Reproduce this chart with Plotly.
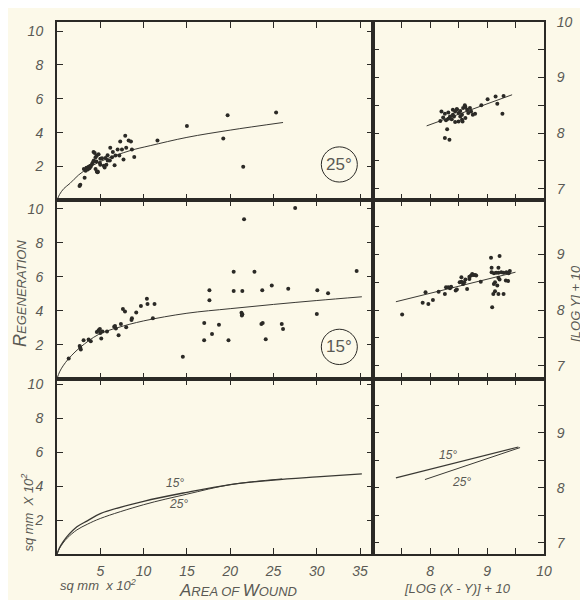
import plotly.graph_objects as go
from plotly.subplots import make_subplots

# ---------------- DATA ----------------
# Top-left (25 deg): area of wound vs regeneration
top_x = [2.69, 2.6, 3.19, 4.6, 4.7, 4.22, 6.15, 5.84, 5.5, 6.65, 7.3, 7.88, 8.27, 8.54, 7.99, 8.65,
         8.92, 7.68, 11.6, 15.0, 19.2, 19.7, 21.5, 25.3,
         3.1, 3.4, 3.65, 3.85, 4.05, 4.25, 4.45, 4.6, 4.35, 4.8, 5.0, 4.55, 4.15, 3.75, 5.2, 5.6,
         5.85, 6.35, 6.75, 7.0, 7.5, 7.2, 6.45, 6.1, 5.4, 5.7, 5.0, 4.45, 4.7, 3.3, 3.55, 3.9, 4.95]
top_y = [0.92, 0.85, 1.34, 1.69, 1.66, 2.85, 3.1, 2.66, 1.94, 2.08, 3.47, 3.82, 3.53, 3.47, 3.1, 3.0,
         2.56, 2.42, 3.53, 4.40, 3.66, 5.03, 1.98, 5.19,
         1.85, 1.93, 1.98, 2.05, 2.15, 2.35, 2.55, 2.65, 2.8, 2.72, 2.45, 2.3, 2.25, 1.9, 2.48, 2.5,
         2.35, 2.55, 2.65, 3.0, 3.0, 2.65, 2.85, 2.35, 2.05, 2.1, 2.1, 1.85, 1.7, 1.75, 1.82, 2.0, 2.2]
top_curve_x = [0, 0.3, 0.8, 1.5, 2.5, 3.85, 5.5, 8.45, 10.76, 15.0, 20.0, 26.1]
top_curve_y = [0, 0.35, 0.7, 1.0, 1.5, 1.98, 2.4, 2.94, 3.23, 3.72, 4.15, 4.6]

# Top-right (25 deg): log-log
topr_x = [8.18, 8.30, 8.26, 8.34, 8.90, 9.01, 9.15, 9.29, 9.18, 9.27,
          8.20, 8.26, 8.32, 8.35, 8.40, 8.44, 8.47, 8.50, 8.53, 8.56, 8.58, 8.61, 8.62,
          8.65, 8.67, 8.70, 8.72, 8.75, 8.79, 8.50, 8.44, 8.38, 8.32, 8.28, 8.23, 8.42, 8.56,
          8.62, 8.57, 8.47, 8.53, 8.40]
topr_y = [8.22, 8.07, 7.91, 7.88, 8.50, 8.61, 8.66, 8.67, 8.53, 8.35,
          8.39, 8.35, 8.37, 8.30, 8.33, 8.39, 8.43, 8.36, 8.30, 8.24, 8.45, 8.50, 8.47,
          8.42, 8.36, 8.45, 8.39, 8.33, 8.35, 8.21, 8.20, 8.25, 8.26, 8.23, 8.28, 8.30, 8.33,
          8.27, 8.21, 8.43, 8.40, 8.42]
topr_line_x = [7.94, 9.44]
topr_line_y = [8.13, 8.69]

# Middle-left (15 deg)
mid_x = [1.35, 2.69, 2.75, 2.62, 3.07, 3.65, 3.9, 4.6, 4.8, 5.0, 5.25, 4.95, 5.11, 5.77, 6.6, 6.8,
         6.7, 7.11, 7.38, 7.99, 7.61, 7.85, 8.65, 8.6, 9.15, 9.69, 10.38, 10.45, 11.26, 11.07,
         14.53, 17.0, 16.99, 17.6, 17.6, 17.9, 18.7, 19.8, 20.4, 20.4, 21.6, 21.4, 21.3, 21.4,
         21.35, 22.8, 23.6, 23.75, 23.7, 24.1, 24.8, 25.95, 26.1, 26.7, 27.5, 30.06, 30.0, 31.3, 34.6]
mid_y = [1.18, 1.82, 1.72, 1.92, 2.26, 2.30, 2.20, 2.75, 2.85, 2.68, 2.78, 2.92, 2.36, 2.78, 3.05, 2.95,
         3.1, 2.55, 3.21, 3.03, 4.1, 3.95, 3.55, 3.45, 3.9, 4.27, 4.71, 4.39, 4.39, 3.55,
         1.29, 3.27, 2.26, 5.2, 4.62, 2.63, 3.17, 2.26, 6.3, 5.16, 9.39, 5.16, 3.88, 3.79,
         3.72, 6.3, 3.21, 3.27, 5.2, 2.32, 5.49, 3.21, 2.92, 5.29, 10.05, 5.2, 3.81, 5.03, 6.34]
mid_curve_x = [0, 0.3, 0.7, 1.35, 2.7, 4.8, 7.0, 10.0, 15.0, 20.0, 25.0, 30.0, 35.2]
mid_curve_y = [0, 0.4, 0.75, 1.18, 1.85, 2.6, 3.0, 3.4, 3.85, 4.12, 4.37, 4.6, 4.82]

# Middle-right (15 deg): log-log
midr_x = [7.51, 7.87, 7.97, 8.05, 7.92, 8.15, 8.26, 8.28, 8.32, 8.35, 8.37, 8.45, 8.47,
          8.52, 8.55, 8.58, 8.60, 8.55, 8.62, 8.65, 8.69, 8.72, 8.74, 8.76, 8.79, 8.81, 8.69,
          8.89, 9.07, 9.22, 9.09, 9.08, 9.20, 9.08, 9.12, 9.16, 9.20, 9.25, 9.29, 9.34, 9.40,
          9.38, 9.20, 9.22, 9.14, 9.12, 9.18, 9.33, 9.37, 9.14, 9.20, 9.29, 9.11]
midr_y = [7.92, 8.13, 8.11, 8.18, 8.32, 8.33, 8.29, 8.41, 8.41, 8.39, 8.42, 8.35, 8.37,
          8.50, 8.51, 8.47, 8.50, 8.59, 8.55, 8.38, 8.60, 8.62, 8.65, 8.63, 8.63, 8.62, 8.56,
          8.51, 8.94, 8.97, 8.05, 8.76, 8.76, 8.68, 8.66, 8.67, 8.67, 8.68, 8.67, 8.68, 8.70,
          8.66, 8.58, 8.55, 8.50, 8.47, 8.44, 8.53, 8.52, 8.34, 8.29, 8.29, 8.29]
midr_line_x = [7.40, 9.50]
midr_line_y = [8.15, 8.68]

# Bottom-left: fitted curves 15 and 25 deg
bot15_x = [0, 0.3, 0.7, 1.2, 2.3, 3.5, 5, 10, 15, 20, 25, 30, 35.2]
bot15_y = [0, 0.38, 0.72, 1.05, 1.6, 1.95, 2.38, 3.1, 3.63, 4.08, 4.35, 4.54, 4.72]
bot25_x = [0, 0.3, 0.7, 1.2, 2.3, 3.5, 5, 10, 15, 20, 26]
bot25_y = [0, 0.34, 0.65, 0.95, 1.42, 1.75, 2.09, 2.9, 3.52, 4.08, 4.42]

# Bottom-right: fitted log lines
botr15_x = [7.40, 9.55]
botr15_y = [8.18, 8.74]
botr25_x = [7.91, 9.58]
botr25_y = [8.15, 8.73]

left_xticks = [5, 10, 15, 20, 25, 30, 35]
left_yticks = [2, 4, 6, 8, 10]
right_xticks = [7.5, 8, 8.5, 9, 9.5, 10]
right_xtext = ["", "8", "", "9", "", "10"]
right_yticks = [7, 7.5, 8, 8.5, 9, 9.5, 10]
right_ytext = ["7", "", "8", "", "9", "", "10"]

# ---------------- FIGURE ----------------
INK = "#2b2a26"
TXT = "#5a5954"
BG = "#fcf9e9"
FONT = "Liberation Sans"

# page offset of the plot div (browser body margin)
OX, OY = 8, 10
W, H = 588 - OX, 602 - OY
ML, MR, MT, MB = 57 - OX, 44, 16 - OY, 46

fig = make_subplots(rows=3, cols=2, column_widths=[316.3, 171], row_heights=[181, 181, 178],
                    horizontal_spacing=0, vertical_spacing=0)

def dots(x, y, r, c):
    fig.add_trace(go.Scatter(x=x, y=y, mode="markers",
                             marker=dict(size=4, color=INK), showlegend=False,
                             hoverinfo="skip"), row=r, col=c)

def line(x, y, r, c, w=1.0):
    fig.add_trace(go.Scatter(x=x, y=y, mode="lines", line=dict(color="#3a3934", width=w, shape="spline"),
                             showlegend=False, hoverinfo="skip"), row=r, col=c)

line(top_curve_x, top_curve_y, 1, 1)
dots(top_x, top_y, 1, 1)
line(topr_line_x, topr_line_y, 1, 2)
dots(topr_x, topr_y, 1, 2)
line(mid_curve_x, mid_curve_y, 2, 1)
dots(mid_x, mid_y, 2, 1)
line(midr_line_x, midr_line_y, 2, 2)
dots(midr_x, midr_y, 2, 2)
line(bot15_x, bot15_y, 3, 1, 1.3)
line(bot25_x, bot25_y, 3, 1, 1.0)
line(botr15_x, botr15_y, 3, 2, 1.1)
line(botr25_x, botr25_y, 3, 2, 1.0)

tickfont = dict(family=FONT, size=14, color=TXT, style="italic")
axis_common = dict(showgrid=False, zeroline=False, showline=True, linecolor=INK, linewidth=2,
                   mirror="ticks", ticks="inside", ticklen=6, tickwidth=1.2, tickcolor=INK,
                   tickfont=tickfont)

left_yranges = {1: [0, 10.54], 2: [0, 10.5], 3: [0, 10.32]}
right_yranges = {1: [6.79, 10.0], 2: [6.77, 9.97], 3: [6.8, 9.98]}

for r in (1, 2, 3):
    fig.update_xaxes(row=r, col=1, range=[0, 36.5], tickvals=left_xticks,
                     showticklabels=(r == 3), ticklabelstandoff=3, **axis_common)
    fig.update_xaxes(row=r, col=2, range=[7.0, 10.0], tickvals=right_xticks, ticktext=right_xtext,
                     showticklabels=(r == 3), ticklabelstandoff=3, **axis_common)
    fig.update_yaxes(row=r, col=1, range=left_yranges[r], tickvals=left_yticks,
                     ticktext=["2", "4", "6", "8", "10"], ticklabelstandoff=9, **axis_common)
    fig.update_yaxes(row=r, col=2, range=right_yranges[r], tickvals=right_yticks, ticktext=right_ytext,
                     side="right", ticklabelstandoff=8, **axis_common)

# circled temperature labels
for r, lab_t, yc in ((1, "25°", 2.12), (2, "15°", 1.87)):
    xr = "x" if r == 1 else "x3"
    yr = "y" if r == 1 else "y3"
    fig.add_shape(type="circle", xref=xr, yref=yr,
                  x0=32.6 - 2.08, x1=32.6 + 2.08, y0=yc - 1.04, y1=yc + 1.04,
                  line=dict(color=INK, width=1))
    fig.add_annotation(x=32.6, y=yc, xref=xr, yref=yr, text=lab_t, showarrow=False,
                       font=dict(family=FONT, size=17, color=TXT))

small = dict(family=FONT, size=12, color=TXT, style="italic")
fig.add_annotation(x=13.6, y=4.2, xref="x5", yref="y5", text="15°", showarrow=False, font=small)
fig.add_annotation(x=14.0, y=2.92, xref="x5", yref="y5", text="25°", showarrow=False, font=small)
fig.add_annotation(x=8.31, y=8.59, xref="x6", yref="y6", text="15°", showarrow=False, font=small)
fig.add_annotation(x=8.55, y=8.11, xref="x6", yref="y6", text="25°", showarrow=False, font=small)

def px(xp, yp):
    # page pixel -> paper fraction
    return (xp - OX - ML) / (W - ML - MR), 1 - (yp - OY - MT) / (H - MT - MB)

def note(xp, yp, text, font, angle=0):
    ax, ay = px(xp, yp)
    fig.add_annotation(x=ax, y=ay, xref="paper", yref="paper", showarrow=False, textangle=angle,
                       xanchor="center", yanchor="middle", text=text, font=font)

lab = dict(family=FONT, size=13, color=TXT, style="italic")
note(20, 292, "R<span style='font-size:13px'>EGENERATION</span>",
     dict(family=FONT, size=18, color=TXT, style="italic"), -90)
note(27, 514, "sq mm  X 10<sup>2</sup>", lab, -90)
note(98, 587, "sq mm  x 10<sup>2</sup>", lab)
note(238, 593, "A<span style='font-size:13px'>REA OF </span>W<span style='font-size:13px'>OUND</span>",
     dict(family=FONT, size=17, color=TXT, style="italic"))
note(457, 591, "[LOG (X - Y)] + 10", lab)
note(576, 302, "[LOG Y] + 10", lab, -90)

fig.update_layout(width=W, height=H, margin=dict(l=ML, r=MR, t=MT, b=MB),
                  paper_bgcolor=BG, plot_bgcolor=BG, showlegend=False)

fig.write_html("out.html")
